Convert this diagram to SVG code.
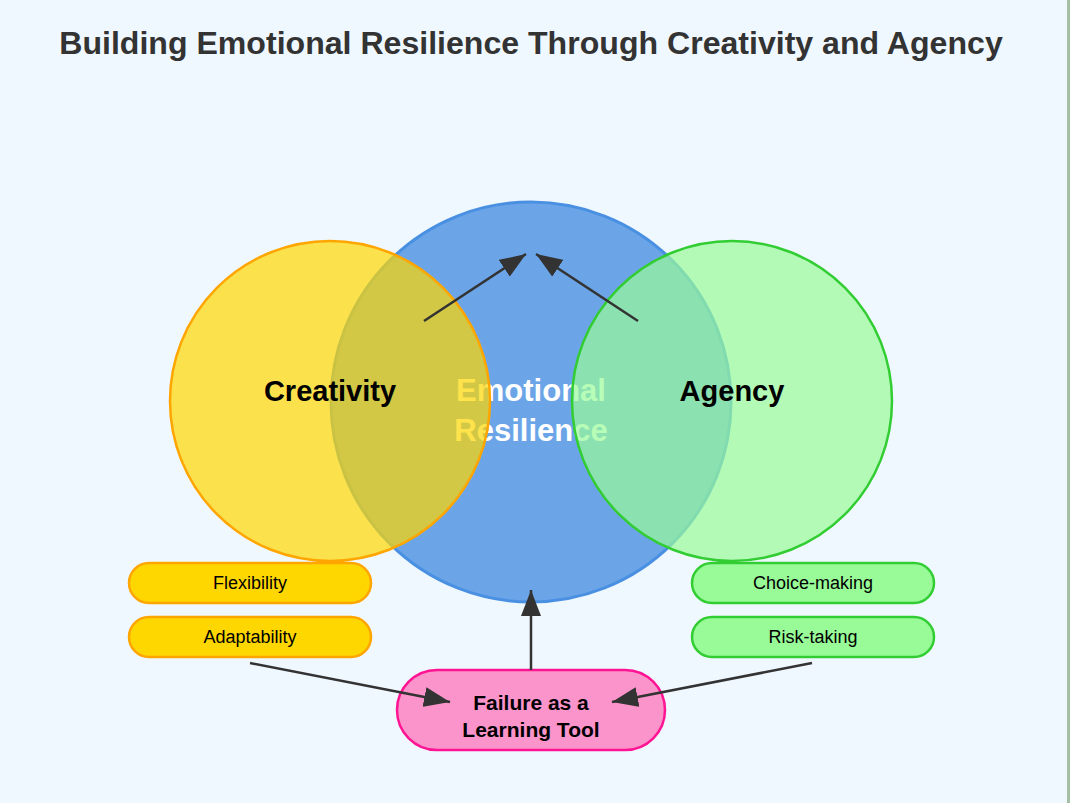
<svg xmlns="http://www.w3.org/2000/svg" width="1070" height="803" viewBox="0 0 1070 803">
<style>
text{font-family:"Liberation Sans",Arial,sans-serif;text-anchor:middle}
.title{font-size:32.1px;font-weight:bold;fill:#333}
.big{font-size:29px;font-weight:bold;fill:#000}
.core{font-size:31px;font-weight:bold;fill:#fff}
.pill{font-size:18px;fill:#000}
.fail{font-size:21px;font-weight:bold;fill:#000}
.yp{fill:#ffd700;stroke:#ffa500;stroke-width:2.5}
.gp{fill:#98fb98;stroke:#32cd32;stroke-width:2.5}
.conn{stroke:#333;stroke-width:2.5;fill:none;marker-end:url(#ah)}
</style>
<defs>
<marker id="ah" markerUnits="userSpaceOnUse" markerWidth="26" markerHeight="20" refX="26" refY="10" orient="auto" viewBox="0 0 26 20">
<path d="M0,0 L26,10 L0,20 z" fill="#333"/>
</marker>
</defs>
<rect width="1070" height="803" fill="#f0f8ff"/>
<rect x="1067" y="0" width="3" height="803" fill="#a6bda6"/>
<text class="title" x="531" y="54">Building Emotional Resilience Through Creativity and Agency</text>
<g id="resilience">
<circle cx="531" cy="402" r="200" fill="#4a90e2" fill-opacity="0.8" stroke="#4a90e2" stroke-width="3"/>
<text class="core" x="531" y="401">Emotional</text>
<text class="core" x="531" y="441">Resilience</text>
</g>
<g id="creativity">
<circle cx="330" cy="401" r="160" fill="#ffd700" fill-opacity="0.7" stroke="#ffa500" stroke-width="2.5"/>
<text class="big" x="330" y="401">Creativity</text>
</g>
<g id="agency">
<circle cx="732" cy="401" r="160" fill="#98fb98" fill-opacity="0.7" stroke="#32cd32" stroke-width="2.5"/>
<text class="big" x="732" y="401">Agency</text>
</g>
<g id="flexibility">
<rect class="yp" x="129" y="563" width="242" height="40" rx="20"/>
<text class="pill" x="250" y="589">Flexibility</text>
</g>
<g id="adaptability">
<rect class="yp" x="129" y="617" width="242" height="40" rx="20"/>
<text class="pill" x="250" y="643">Adaptability</text>
</g>
<g id="choice">
<rect class="gp" x="692" y="563" width="242" height="40" rx="20"/>
<text class="pill" x="813" y="589">Choice-making</text>
</g>
<g id="risk">
<rect class="gp" x="692" y="617" width="242" height="40" rx="20"/>
<text class="pill" x="813" y="643">Risk-taking</text>
</g>
<g id="failure">
<rect x="397" y="670" width="268" height="80" rx="40" fill="#ff69b4" fill-opacity="0.7" stroke="#ff1493" stroke-width="2.5"/>
<text class="fail" x="531" y="710">Failure as a</text>
<text class="fail" x="531" y="737">Learning Tool</text>
</g>
<g id="connectors">
<line class="conn" x1="424" y1="321" x2="526" y2="254"/>
<line class="conn" x1="638" y1="321" x2="536" y2="254"/>
<line class="conn" x1="531" y1="670" x2="531" y2="590"/>
<line class="conn" x1="250" y1="663" x2="450" y2="702"/>
<line class="conn" x1="812" y1="663" x2="612" y2="702"/>
</g>
</svg>
